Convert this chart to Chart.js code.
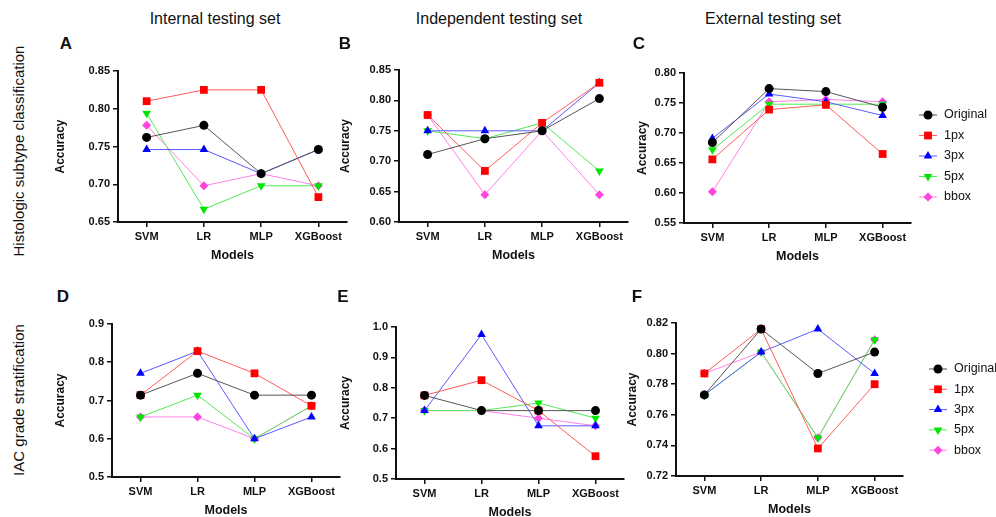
<!DOCTYPE html>
<html>
<head>
<meta charset="utf-8">
<script src="https://cdn.jsdelivr.net/npm/chart.js@4.4.1/dist/chart.umd.min.js"></script>
<style>
  body { margin: 0; background: #fff; width: 996px; height: 517px; position: relative; overflow: hidden; font-family: "Liberation Sans", Arial, sans-serif; color: #111; }
  .box { position: absolute; }
  .col-title { position: absolute; font-size: 16px; transform: translate(-50%, -50%); white-space: nowrap; }
  .row-title { position: absolute; font-size: 15px; transform: translate(-50%, -50%) rotate(-90deg); white-space: nowrap; }
  .tag { position: absolute; font-weight: bold; font-size: 17px; transform: translate(-50%, -50%); }
</style>
</head>
<body>
<div class="col-title" style="left:215px; top:19px;">Internal testing set</div>
<div class="col-title" style="left:499px; top:19px;">Independent testing set</div>
<div class="col-title" style="left:773px; top:19px;">External testing set</div>
<div class="row-title" style="left:18px; top:151px;">Histologic subtype classification</div>
<div class="row-title" style="left:18px; top:400px;">IAC grade stratification</div>

<div id="panels"></div>

<script>
// categories and series
const models = ['SVM', 'LR', 'MLP', 'XGBoost'];
const seriesNames = ['Original', '1px', '3px', '5px', 'bbox'];

// accuracy values, rows follow seriesNames
// A: internal / histologic subtype
const accA = [
    [0.762, 0.778, 0.714, 0.746],
    [0.810, 0.825, 0.825, 0.683],
    [0.746, 0.746, 0.714, 0.746],
    [0.794, 0.667, 0.698, 0.698],
    [0.778, 0.698, 0.714, 0.698]
];
// B: independent / histologic subtype
const accB = [
    [0.711, 0.737, 0.750, 0.803],
    [0.776, 0.684, 0.763, 0.829],
    [0.750, 0.750, 0.750, 0.829],
    [0.750, 0.737, 0.763, 0.684],
    [0.776, 0.645, 0.750, 0.645]
];
// C: external / histologic subtype
const accC = [
    [0.684, 0.774, 0.769, 0.743],
    [0.656, 0.739, 0.747, 0.665],
    [0.691, 0.765, 0.752, 0.729],
    [0.672, 0.748, 0.748, 0.748],
    [0.602, 0.752, 0.756, 0.752]
];
// D: internal / IAC grade
const accD = [
    [0.714, 0.771, 0.714, 0.714],
    [0.714, 0.829, 0.771, 0.686],
    [0.771, 0.829, 0.600, 0.657],
    [0.657, 0.714, 0.600, 0.686],
    [0.657, 0.657, 0.600, 0.686]
];
// E: independent / IAC grade
const accE = [
    [0.775, 0.725, 0.725, 0.725],
    [0.775, 0.825, 0.725, 0.575],
    [0.725, 0.975, 0.675, 0.675],
    [0.725, 0.725, 0.750, 0.700],
    [0.725, 0.725, 0.700, 0.675]
];
// F: external / IAC grade
const accF = [
    [0.773, 0.816, 0.787, 0.801],
    [0.787, 0.816, 0.738, 0.780],
    [0.773, 0.801, 0.816, 0.787],
    [0.773, 0.801, 0.745, 0.809],
    [0.787, 0.801, 0.745, 0.809]
];

// y axis ticks: min, max, step, decimals
const yTicksA = [0.65, 0.85, 0.05, 2];
const yTicksB = [0.60, 0.85, 0.05, 2];
const yTicksC = [0.55, 0.80, 0.05, 2];
const yTicksD = [0.5, 0.9, 0.1, 1];
const yTicksE = [0.5, 1.0, 0.1, 1];
const yTicksF = [0.72, 0.82, 0.02, 2];

// series styles
const lineColors = ['#555555', '#ff5a5a', '#5a5aff', '#55e855', '#ff80ea'];
const markColors = ['#000000', '#ff0000', '#0000ff', '#00e600', '#ff44dd'];
const markStyles = ['circle', 'rect', 'triangle', 'triangle', 'rectRot'];
const markRot = [0, 0, 0, 180, 0];
const markRadius = [4.5, 5.5, 5, 5, 4.5];

const FONT = '"Liberation Sans", Arial, sans-serif';

// plot area in page pixels (L/R/T/B), y title distance, letter and legend positions
const panels = [
    { tag: 'A', acc: accA, yt: yTicksA, L: 118, R: 347, T: 71, B: 222, dy: 58, tx: 66, ty: 44 },
    { tag: 'B', acc: accB, yt: yTicksB, L: 399, R: 628, T: 70, B: 222, dy: 54, tx: 345, ty: 44 },
    { tag: 'C', acc: accC, yt: yTicksC, L: 684, R: 911, T: 73, B: 223, dy: 42, tx: 639, ty: 44,
      legend: { x: 928, y: 115, gap: 20.5, textX: 944 } },
    { tag: 'D', acc: accD, yt: yTicksD, L: 112, R: 340, T: 324, B: 477, dy: 52, tx: 63, ty: 297 },
    { tag: 'E', acc: accE, yt: yTicksE, L: 396, R: 624, T: 327, B: 479, dy: 51, tx: 343, ty: 297 },
    { tag: 'F', acc: accF, yt: yTicksF, L: 676, R: 903, T: 323, B: 476, dy: 44, tx: 637, ty: 297,
      legend: { x: 938, y: 369, gap: 20.3, textX: 954 } }
];

// marker for the legend
function drawMarker(ctx, i, x, y) {
    const r = markRadius[i];
    ctx.save();
    ctx.fillStyle = markColors[i];
    ctx.beginPath();
    if (markStyles[i] === 'circle') {
        ctx.arc(x, y, r, 0, Math.PI * 2);
    } else if (markStyles[i] === 'rect') {
        const s = r * Math.SQRT1_2;
        ctx.rect(x - s, y - s, 2 * s, 2 * s);
    } else if (markStyles[i] === 'rectRot') {
        ctx.moveTo(x, y - r); ctx.lineTo(x + r, y); ctx.lineTo(x, y + r); ctx.lineTo(x - r, y);
    } else {
        const d = markRot[i] === 180 ? -1 : 1;
        ctx.moveTo(x, y - d * r);
        ctx.lineTo(x + r * 0.866, y + d * r * 0.5);
        ctx.lineTo(x - r * 0.866, y + d * r * 0.5);
    }
    ctx.closePath();
    ctx.fill();
    ctx.restore();
}

const legendPlugin = {
    id: 'sideLegend',
    afterDraw(chart, args, opts) {
        if (!opts || !opts.x) return;
        const ctx = chart.ctx;
        seriesNames.forEach((name, i) => {
            const x = opts.x - opts.left;
            const y = opts.y - opts.top + i * opts.gap;
            ctx.save();
            ctx.strokeStyle = lineColors[i];
            ctx.lineWidth = 1;
            ctx.beginPath();
            ctx.moveTo(x - 9, y);
            ctx.lineTo(x + 9, y);
            ctx.stroke();
            drawMarker(ctx, i, x, y);
            ctx.fillStyle = '#111';
            ctx.font = '12.5px ' + FONT;
            ctx.textBaseline = 'middle';
            ctx.fillText(name, opts.textX - opts.left, y);
            ctx.restore();
        });
    }
};

const holder = document.getElementById('panels');
const padTop = 14;
const xAxisH = 41;

panels.forEach(p => {
    const wy = p.dy + 7;
    const padRight = p.legend ? 996 - p.R : 10;
    const left = p.L - wy;
    const top = p.T - padTop;
    const width = wy + (p.R - p.L) + padRight;
    const height = padTop + (p.B - p.T) + xAxisH;

    const tag = document.createElement('div');
    tag.className = 'tag';
    tag.style.left = p.tx + 'px';
    tag.style.top = p.ty + 'px';
    tag.textContent = p.tag;
    document.body.appendChild(tag);

    const box = document.createElement('div');
    box.className = 'box';
    box.style.left = left + 'px';
    box.style.top = top + 'px';
    const canvas = document.createElement('canvas');
    canvas.width = width;
    canvas.height = height;
    canvas.style.width = width + 'px';
    canvas.style.height = height + 'px';
    box.appendChild(canvas);
    holder.appendChild(box);

    const datasets = seriesNames.map((name, i) => ({
        label: name,
        data: p.acc[i],
        borderColor: lineColors[i],
        backgroundColor: markColors[i],
        borderWidth: 1,
        pointStyle: markStyles[i],
        rotation: markRot[i],
        pointRadius: markRadius[i],
        pointBorderWidth: 0,
        pointBorderColor: markColors[i],
        pointBackgroundColor: markColors[i],
        tension: 0,
        clip: false
    }));

    const legendOpts = p.legend ? {
        x: p.legend.x, y: p.legend.y, gap: p.legend.gap, textX: p.legend.textX, left: left, top: top
    } : {};

    new Chart(canvas.getContext('2d'), {
        type: 'line',
        data: { labels: models, datasets: datasets },
        options: {
            responsive: false,
            animation: false,
            devicePixelRatio: 1,
            layout: { padding: { top: padTop, right: padRight, left: 0, bottom: 0 } },
            plugins: {
                legend: { display: false },
                tooltip: { enabled: false },
                sideLegend: legendOpts
            },
            scales: {
                x: {
                    offset: true,
                    afterFit: s => { s.height = xAxisH; },
                    grid: { drawOnChartArea: false, drawTicks: true, tickLength: 5, color: '#111', lineWidth: 1.5 },
                    border: { display: true, color: '#111', width: 2 },
                    ticks: { color: '#111', padding: 3, maxRotation: 0, autoSkip: false,
                             font: { family: FONT, size: 11, weight: 'bold' } },
                    title: { display: true, text: 'Models', color: '#111', padding: 0,
                             font: { family: FONT, size: 12.5, weight: 'bold' } }
                },
                y: {
                    min: p.yt[0],
                    max: p.yt[1],
                    afterFit: s => { s.width = wy; },
                    grid: { drawOnChartArea: false, drawTicks: true, tickLength: 5, color: '#111', lineWidth: 1.5 },
                    border: { display: true, color: '#111', width: 2 },
                    ticks: { stepSize: p.yt[2], color: '#111', padding: 3,
                             font: { family: FONT, size: 11, weight: 'bold' },
                             callback: v => Number(v).toFixed(p.yt[3]) },
                    title: { display: true, text: 'Accuracy', color: '#111', padding: 0,
                             font: { family: FONT, size: 12, weight: 'bold' } }
                }
            }
        },
        plugins: [legendPlugin]
    });
});
</script>
</body>
</html>
